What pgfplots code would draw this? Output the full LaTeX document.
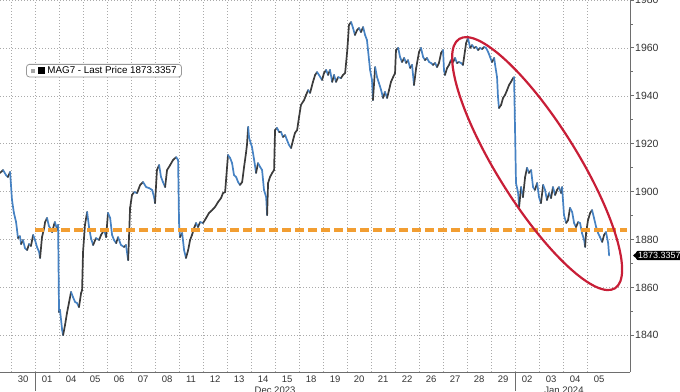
\documentclass[border=0pt]{standalone}
\usepackage{pgfplots}
\pgfplotsset{compat=1.18}
\usepackage{pgfplotstable}
\usepackage{fontspec}
\setmainfont{Liberation Sans}
\usetikzlibrary{shapes.geometric}
\definecolor{bbblue}{RGB}{70,130,195}
\definecolor{bbdark}{RGB}{60,60,60}
\definecolor{bborange}{RGB}{242,158,50}
\definecolor{bbred}{RGB}{200,30,55}
\definecolor{gridgray}{RGB}{170,170,170}
\definecolor{axgray}{RGB}{110,110,110}

\pgfplotstableread{
t v c
-0.96 1907.8 1
-0.83 1909.0 0
-0.71 1906.9 0
-0.63 1906.1 1
-0.54 1908.2 0
-0.46 1896.5 0
-0.38 1891.1 0
-0.29 1887.3 0
-0.25 1884.0 0
-0.21 1880.6 1
-0.13 1881.4 0
-0.08 1878.1 1
0.00 1879.8 0
0.08 1876.4 0
0.17 1875.6 1
0.25 1878.1 0
0.33 1877.3 1
0.42 1881.9 0
0.50 1879.8 0
0.58 1876.9 0
0.67 1874.8 0
0.71 1872.3 1
0.79 1881.0 1
0.88 1884.8 1
0.92 1887.3 1
1.00 1889.0 0
1.08 1885.6 0
1.13 1884.8 0
1.21 1883.1 1
1.29 1886.1 1
1.33 1887.3 0
1.42 1884.0 1
1.46 1886.1 0
1.50 1849.7 1
1.54 1850.6 0
1.63 1842.2 0
1.67 1840.1 1
1.75 1844.3 1
1.83 1849.3 1
1.92 1853.9 1
2.00 1858.1 0
2.08 1856.0 0
2.17 1853.9 0
2.25 1853.5 0
2.33 1851.8 1
2.42 1857.7 1
2.46 1858.9 1
2.50 1874.8 1
2.58 1886.1 1
2.67 1891.5 0
2.75 1885.2 0
2.83 1880.6 0
2.92 1877.7 1
3.04 1880.6 0
3.17 1879.8 1
3.25 1881.9 1
3.38 1884.0 0
3.46 1881.0 1
3.54 1891.1 0
3.63 1889.0 0
3.71 1881.9 0
3.79 1879.8 0
3.88 1878.5 1
3.96 1881.0 0
4.08 1877.7 0
4.21 1876.9 1
4.29 1877.7 0
4.38 1871.4 1
4.46 1893.2 1
4.54 1898.6 1
4.63 1899.8 0
4.75 1899.4 1
4.88 1902.8 1
5.00 1904.0 0
5.13 1901.9 0
5.25 1901.5 0
5.38 1900.7 0
5.46 1897.7 0
5.50 1895.2 1
5.58 1909.0 1
5.67 1911.1 0
5.75 1906.1 0
5.83 1904.0 0
5.92 1901.9 1
6.00 1909.0 1
6.13 1911.1 1
6.25 1913.2 1
6.38 1914.4 0
6.46 1913.2 0
6.50 1886.9 0
6.54 1881.0 1
6.63 1882.7 0
6.71 1875.6 0
6.79 1872.3 1
6.88 1875.6 1
6.96 1879.8 1
7.04 1881.9 1
7.13 1884.8 1
7.21 1886.9 0
7.29 1885.2 1
7.38 1887.3 0
7.50 1886.9 1
7.63 1889.0 1
7.75 1891.1 1
7.88 1892.3 1
8.00 1893.6 1
8.13 1895.7 1
8.25 1897.3 1
8.33 1899.4 1
8.42 1899.8 1
8.54 1915.3 0
8.63 1914.0 0
8.71 1911.9 0
8.79 1906.9 0
8.88 1906.1 0
8.96 1904.0 0
9.04 1902.8 1
9.13 1904.0 1
9.21 1910.3 1
9.29 1916.1 1
9.33 1919.5 1
9.38 1927.0 0
9.42 1922.4 0
9.54 1918.6 0
9.63 1913.2 0
9.71 1907.8 1
9.79 1911.9 0
9.88 1910.3 0
9.96 1909.0 0
10.04 1900.7 0
10.13 1897.7 0
10.17 1890.2 1
10.21 1903.6 1
10.29 1906.1 1
10.38 1907.8 1
10.46 1909.0 1
10.50 1925.7 1
10.58 1926.6 0
10.67 1924.9 1
10.75 1924.9 0
10.83 1922.8 1
10.92 1923.6 0
11.00 1921.5 0
11.08 1919.5 0
11.17 1918.2 1
11.25 1921.5 1
11.33 1924.5 1
11.42 1925.7 1
11.50 1931.1 1
11.58 1936.2 1
11.71 1938.2 1
11.79 1940.3 1
11.88 1942.4 0
11.96 1941.2 1
12.08 1945.8 1
12.17 1948.7 1
12.25 1949.9 0
12.33 1948.7 0
12.46 1946.6 1
12.54 1949.5 1
12.63 1950.8 0
12.71 1948.7 1
12.79 1950.8 0
12.88 1945.8 1
12.96 1948.7 0
13.04 1945.8 1
13.13 1947.8 0
13.25 1947.4 1
13.33 1948.7 1
13.42 1949.5 1
13.50 1957.9 1
13.54 1963.3 1
13.58 1969.6 1
13.67 1970.8 0
13.75 1968.3 0
13.83 1965.4 1
13.92 1967.5 1
14.00 1968.3 0
14.08 1966.6 1
14.17 1968.7 0
14.25 1965.4 0
14.33 1963.3 0
14.46 1950.8 0
14.54 1946.6 0
14.58 1938.2 1
14.67 1952.0 0
14.75 1947.8 0
14.83 1945.3 0
14.92 1942.4 0
15.00 1939.1 1
15.08 1941.6 0
15.17 1939.1 1
15.25 1942.4 1
15.33 1945.8 1
15.42 1947.8 1
15.50 1949.5 1
15.54 1959.1 1
15.63 1960.0 0
15.71 1956.2 0
15.79 1954.1 1
15.88 1955.8 0
15.96 1953.7 1
16.04 1954.9 0
16.13 1951.6 1
16.21 1952.9 0
16.29 1944.5 1
16.38 1951.6 1
16.50 1958.3 1
16.58 1960.0 0
16.67 1956.2 0
16.75 1954.9 1
16.83 1955.8 0
16.92 1954.1 0
17.00 1953.7 0
17.08 1952.9 1
17.17 1953.7 0
17.25 1952.0 1
17.33 1953.7 1
17.42 1957.9 1
17.50 1959.1 0
17.54 1950.8 0
17.58 1948.7 1
17.67 1951.6 1
17.75 1952.9 1
17.83 1954.9 0
17.92 1954.1 1
18.00 1955.8 0
18.08 1953.7 1
18.17 1954.1 0
18.25 1953.7 0
18.33 1952.9 1
18.42 1959.1 1
18.46 1962.0 1
18.54 1964.1 0
18.63 1960.0 1
18.71 1961.2 0
18.79 1960.0 1
18.88 1960.4 0
18.96 1959.1 1
19.04 1960.0 0
19.13 1959.5 1
19.21 1960.4 0
19.29 1960.0 0
19.38 1958.3 0
19.46 1956.2 0
19.54 1954.1 1
19.63 1955.8 0
19.67 1952.9 0
19.75 1947.8 0
19.79 1939.5 0
19.83 1934.9 1
19.92 1936.2 1
20.00 1939.1 1
20.08 1940.3 1
20.17 1942.4 1
20.25 1944.5 1
20.33 1945.8 1
20.42 1947.4 1
20.46 1947.8 0
20.54 1903.6 0
20.63 1899.4 0
20.67 1893.6 1
20.75 1901.9 0
20.83 1897.7 1
20.92 1906.1 1
21.00 1909.9 0
21.08 1907.8 1
21.17 1909.0 0
21.25 1901.9 0
21.33 1900.7 1
21.42 1903.6 0
21.50 1897.7 0
21.58 1895.2 1
21.67 1902.8 0
21.75 1900.7 0
21.83 1896.5 1
21.92 1899.4 0
22.00 1897.3 1
22.08 1901.9 0
22.17 1898.6 1
22.25 1900.7 1
22.33 1901.9 0
22.42 1899.4 1
22.46 1901.9 0
22.54 1890.2 0
22.63 1886.9 1
22.71 1888.1 1
22.79 1893.2 0
22.88 1891.5 0
22.96 1886.9 0
23.04 1885.2 1
23.13 1887.3 0
23.21 1886.9 0
23.29 1882.7 0
23.38 1879.8 0
23.42 1876.9 1
23.46 1882.7 1
23.54 1888.1 1
23.63 1891.1 1
23.71 1892.3 0
23.79 1889.0 0
23.88 1885.2 0
23.96 1882.7 0
24.04 1881.0 0
24.13 1879.0 1
24.21 1881.9 1
24.29 1883.1 0
24.38 1878.5 0
24.42 1873.34 0
}\magdata

\begin{document}
\begin{tikzpicture}
\begin{axis}[
  scale only axis, width=630pt, height=372pt,
  xmin=-0.96, xmax=25.29, ymin=1824.7, ymax=1980,
  axis x line*=bottom, axis y line*=right,
  axis line style={draw=axgray, line width=0.9pt},
  xtick={0,...,24},
  xticklabels={30,01,04,05,06,07,08,11,12,13,14,15,18,19,20,21,22,26,27,28,29,02,03,04,05},
  xtick style={draw=none},
  xticklabel style={font=\fontsize{9.5}{10}\selectfont, text=black!80, inner sep=0pt, anchor=north, yshift=0pt},
  extra x ticks={-0.5,0.5,...,23.5},
  extra x tick labels={},
  extra x tick style={grid=major, major tick length=0pt},
  ytick={1840,1860,...,1980},
  minor y tick num=1,
  ymajorgrids,
  grid style={draw=gridgray, dash pattern=on 1pt off 2pt, line width=0.6pt},
  tick align=outside,
  major tick length=4pt, minor tick length=2.5pt,
  ytick style={draw=axgray, line width=0.9pt},
  yticklabel style={font=\fontsize{10.5}{11}\selectfont, text=black!80, inner sep=1pt, anchor=west},
  /pgf/number format/assume math mode=true,
  /pgf/number format/1000 sep={},
  clip=false,
  colormap={updown}{color(0)=(bbblue) color(1)=(bbdark)},
  point meta min=0, point meta max=1,
]
\addplot[mesh, shader=flat corner, point meta=\thisrow{c}, line width=1.7pt, line cap=round] table[x=t, y=v] {\magdata};
\addplot[bborange, line width=3.5pt, dash pattern=on 9pt off 4pt, forget plot] coordinates {(0.5,1884) (25.17,1884)};
\node[draw=bbred, line width=2.2pt, ellipse, minimum width=294pt, minimum height=80pt, inner sep=0pt, rotate=-58] at (axis cs:21.42,1911.7) {};
\node[draw=gray!80, rounded corners=3pt, fill=white, line width=0.8pt, anchor=north west, inner xsep=5pt, inner ysep=2.5pt, font=\fontsize{9.8}{10}\selectfont] at (axis cs:0.125,1953.3) {\textcolor{gray!70}{\rule[0.5pt]{4pt}{4pt}}\hspace{2.5pt}\rule[-0.5pt]{7pt}{7pt}\hspace{2.5pt}MAG7 - Last Price 1873.3357\hspace{2pt}};
\node[fill=black, text=white, rounded corners=2pt, anchor=west, inner xsep=2pt, inner ysep=1.5pt, font=\fontsize{9}{9}\selectfont] at ([xshift=6pt]axis cs:25.29,1873.34) {1873.3357};
\fill[black] ([xshift=3pt]axis cs:25.29,1873.34) -- ++(4pt,3.5pt) -- ++(0pt,-7pt) -- cycle;
\draw[axgray, line width=0.9pt] (axis cs:0.5,1824.7) -- ++(0pt,-19pt);
\draw[axgray, line width=0.9pt] (axis cs:20.5,1824.7) -- ++(0pt,-19pt);
\node[anchor=north, font=\fontsize{9.5}{10}\selectfont, text=black!80, inner sep=0pt] at ([yshift=-14.5pt]axis cs:10.5,1824.7) {Dec 2023};
\node[anchor=north, font=\fontsize{9.5}{10}\selectfont, text=black!80, inner sep=0pt] at ([yshift=-14.5pt]axis cs:22.54,1824.7) {Jan 2024};
\end{axis}
\pgfresetboundingbox
\useasboundingbox (0,-19pt) rectangle (680pt,372pt);
\end{tikzpicture}
\end{document}
